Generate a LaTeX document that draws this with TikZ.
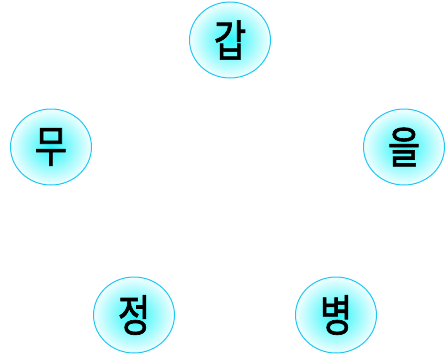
\documentclass[tikz,border=0pt]{standalone}
\usepackage{fontspec}
\newfontfamily\kor[FakeStretch=0.8, FakeBold=1.5]{Noto Sans CJK KR}
\usetikzlibrary{shapes.geometric}
\definecolor{rim}{RGB}{30,200,245}
\definecolor{core}{RGB}{40,245,250}

\begin{document}
\begin{tikzpicture}[x=1pt, y=-1pt,
        person/.style={ellipse, draw=rim, line width=1pt, inner color=core, outer color=core!6,
            minimum width=81pt, minimum height=76pt, inner sep=0pt, font=\kor\fontsize{44}{44}\selectfont}]
        \useasboundingbox (0, 0) rectangle (446, 356);
        \node[person] (gap) at (230, 40) {갑};
        \node[person] (eul) at (404, 147) {을};
        \node[person] (byeong) at (336, 315) {병};
        \node[person] (jeong) at (134, 315) {정};
        \node[person] (mu) at (51, 147) {무};
    \end{tikzpicture}
\end{document}
